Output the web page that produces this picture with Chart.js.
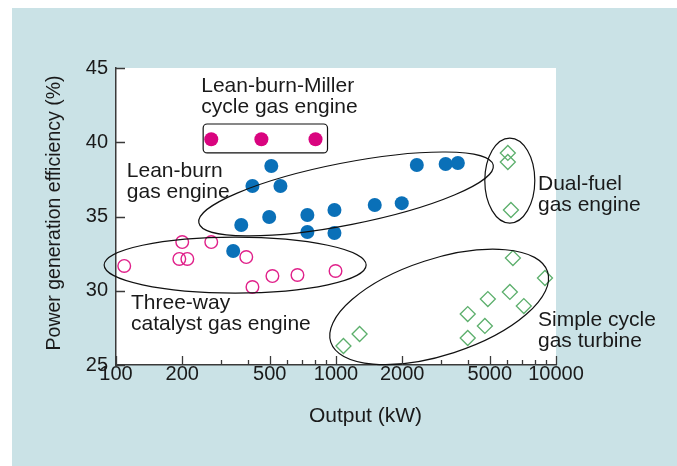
<!DOCTYPE html>
<html>
<head>
<meta charset="utf-8">
<script src="https://cdn.jsdelivr.net/npm/chart.js@4.4.1/dist/chart.umd.min.js"></script>
<style>
    html, body { margin: 0; padding: 0; background: #cae2e6; overflow: hidden; }
    canvas { display: block; }
</style>
</head>
<body>
<canvas id="effChart" width="677" height="466"></canvas>
<script>
/* DATA — output (kW) vs power generation efficiency (%) */

const millerOutput = [271, 458, 807]
const millerEff = [40.2, 40.2, 40.2]

const leanOutput = [508, 417, 559, 497, 371, 741, 984, 741, 984, 341, 2330, 3150, 3580, 1500, 1990]
const leanEff = [38.4, 37.05, 37.05, 34.97, 34.43, 35.1, 35.44, 33.96, 33.89, 32.68, 38.47, 38.54, 38.6, 35.77, 35.9]

const threeWayOutput = [109, 200, 194, 211, 271, 391, 417, 514, 668, 995]
const threeWayEff = [31.67, 33.28, 32.14, 32.14, 33.28, 32.27, 30.25, 30.99, 31.06, 31.33]

const dualFuelOutput = [6040, 6040, 6240]
const dualFuelEff = [39.28, 38.67, 35.44]

const turbineOutput = [6370, 8910, 6170, 7140, 4900, 3970, 4750, 3970, 1280, 1081]
const turbineEff = [32.2, 30.86, 29.92, 28.97, 29.44, 28.43, 27.63, 26.82, 27.09, 26.28]

const xLabelTicks = [100, 200, 500, 1000, 2000, 5000, 10000]
const xMinorTicks = [300, 400, 600, 700, 800, 900, 3000, 4000, 6000, 7000, 8000, 9000]
const yTicks = [25, 30, 35, 40, 45]

/* ANNOTATIONS — anchored in data units */

const groupLabels = [
    { x: 244, y: 43.38, lines: ['Lean-burn-Miller', 'cycle gas engine'] },
    { x: 112, y: 37.66, lines: ['Lean-burn', 'gas engine'] },
    { x: 8280, y: 36.78, lines: ['Dual-fuel', 'gas engine'] },
    { x: 8280, y: 27.63, lines: ['Simple cycle', 'gas turbine'] },
    { x: 117, y: 28.77, lines: ['Three-way', 'catalyst gas engine'] }
]

const groupEllipses = [
    { x: 1111, y: 36.52, rx: 150, ry: 31, rot: -11.1 },
    { x: 348, y: 31.73, rx: 131, ry: 28, rot: 0 },
    { x: 2944, y: 28.91, rx: 114, ry: 48, rot: -18 },
    { x: 6166, y: 37.42, rx: 25, ry: 42.5, rot: 0 }
]

const millerBox = { x0: 249, x1: 915, y0: 41.23, y1: 39.28 }

/* HELPERS */

const FONT = '"Liberation Sans", Arial, Helvetica, sans-serif'
const TEXT_COLOR = '#1a1a1a'
const AXIS_COLOR = '#3a3a3a'
const PANEL_COLOR = '#cae2e6'

function toPoints(xs, ys) {
    return xs.map((x, i) => ({ x, y: ys[i] }))
}

const annotationPlugin = {
    id: 'annotations',
    beforeDraw(chart) {
        const { ctx, width, height, chartArea } = chart
        ctx.save()
        ctx.fillStyle = PANEL_COLOR
        ctx.fillRect(0, 0, width, height)
        // white margin strips at left and top
        ctx.fillStyle = '#fff'
        ctx.fillRect(0, 0, 12, height)
        ctx.fillRect(0, 0, width, 8)
        ctx.fillRect(chartArea.left, chartArea.top, chartArea.right - chartArea.left, chartArea.bottom - chartArea.top)
        ctx.restore()
    },
    afterDatasetsDraw(chart) {
        const { ctx, scales: { x, y } } = chart
        ctx.save()
        ctx.strokeStyle = '#111'
        ctx.lineWidth = 1.2

        groupEllipses.forEach((e) => {
            ctx.beginPath()
            ctx.ellipse(x.getPixelForValue(e.x), y.getPixelForValue(e.y), e.rx, e.ry, e.rot * Math.PI / 180, 0, Math.PI * 2)
            ctx.stroke()
        })

        const bx0 = x.getPixelForValue(millerBox.x0)
        const bx1 = x.getPixelForValue(millerBox.x1)
        const by0 = y.getPixelForValue(millerBox.y0)
        const by1 = y.getPixelForValue(millerBox.y1)
        ctx.beginPath()
        ctx.roundRect(bx0, by0, bx1 - bx0, by1 - by0, 4)
        ctx.stroke()
        ctx.restore()
    },
    afterDraw(chart) {
        const { ctx, chartArea, scales: { x, y } } = chart
        ctx.save()

        // inward tick marks
        ctx.strokeStyle = AXIS_COLOR
        ctx.lineWidth = 1.3
        ctx.beginPath()
        yTicks.forEach((v) => {
            const py = Math.round(y.getPixelForValue(v)) + 0.5
            ctx.moveTo(chartArea.left, py)
            ctx.lineTo(chartArea.left + 9, py)
        })
        xLabelTicks.forEach((v) => {
            const px = Math.round(x.getPixelForValue(v)) + 0.5
            ctx.moveTo(px, chartArea.bottom)
            ctx.lineTo(px, chartArea.bottom - 9)
        })
        xMinorTicks.forEach((v) => {
            const px = Math.round(x.getPixelForValue(v)) + 0.5
            ctx.moveTo(px, chartArea.bottom)
            ctx.lineTo(px, chartArea.bottom - 5)
        })
        ctx.stroke()

        // group labels
        ctx.fillStyle = TEXT_COLOR
        ctx.font = '21px ' + FONT
        ctx.textAlign = 'left'
        ctx.textBaseline = 'alphabetic'
        groupLabels.forEach((l) => {
            const px = x.getPixelForValue(l.x)
            const py = y.getPixelForValue(l.y)
            l.lines.forEach((t, i) => ctx.fillText(t, px, py + i * 21))
        })

        // axis titles
        ctx.textAlign = 'center'
        ctx.textBaseline = 'middle'
        ctx.fillText('Output (kW)', chartArea.left + 249.5, 416)

        ctx.translate(55, 213)
        ctx.rotate(-Math.PI / 2)
        ctx.font = '19.5px ' + FONT
        ctx.fillText('Power generation efficiency (%)', 0, 0)
        ctx.restore()
    }
}

/* CHART */

new Chart(document.getElementById('effChart'), {
    type: 'scatter',
    data: {
        datasets: [
            {
                label: 'Lean-burn-Miller cycle gas engine',
                data: toPoints(millerOutput, millerEff),
                pointStyle: 'circle',
                pointRadius: 7,
                backgroundColor: '#d9047f',
                borderColor: '#d9047f',
                borderWidth: 0
            },
            {
                label: 'Lean-burn gas engine',
                data: toPoints(leanOutput, leanEff),
                pointStyle: 'circle',
                pointRadius: 7,
                backgroundColor: '#0a70b8',
                borderColor: '#0a70b8',
                borderWidth: 0
            },
            {
                label: 'Three-way catalyst gas engine',
                data: toPoints(threeWayOutput, threeWayEff),
                pointStyle: 'circle',
                pointRadius: 6.3,
                backgroundColor: 'rgba(0,0,0,0)',
                borderColor: '#e0218a',
                borderWidth: 1.4
            },
            {
                label: 'Dual-fuel gas engine',
                data: toPoints(dualFuelOutput, dualFuelEff),
                pointStyle: 'rectRot',
                pointRadius: 7.5,
                backgroundColor: 'rgba(0,0,0,0)',
                borderColor: '#5caf6c',
                borderWidth: 1.3
            },
            {
                label: 'Simple cycle gas turbine',
                data: toPoints(turbineOutput, turbineEff),
                pointStyle: 'rectRot',
                pointRadius: 7.5,
                backgroundColor: 'rgba(0,0,0,0)',
                borderColor: '#5caf6c',
                borderWidth: 1.3
            }
        ]
    },
    options: {
        responsive: false,
        animation: false,
        events: [],
        layout: { padding: { top: 68, right: 121, left: 0, bottom: 0 } },
        plugins: {
            legend: { display: false },
            tooltip: { enabled: false }
        },
        scales: {
            x: {
                type: 'logarithmic',
                min: 100,
                max: 10000,
                afterBuildTicks: (scale) => {
                    scale.ticks = xLabelTicks.map((v) => ({ value: v }))
                },
                afterFit: (scale) => { scale.height = 101 },
                grid: { display: false, drawTicks: false },
                border: { display: true, color: AXIS_COLOR, width: 1.5 },
                ticks: {
                    autoSkip: false,
                    maxRotation: 0,
                    padding: -3,
                    color: TEXT_COLOR,
                    font: { family: FONT, size: 20 },
                    callback: (v) => String(v)
                }
            },
            y: {
                type: 'linear',
                min: 25,
                max: 45,
                afterBuildTicks: (scale) => {
                    scale.ticks = yTicks.map((v) => ({ value: v }))
                },
                afterFit: (scale) => { scale.width = 116 },
                grid: { display: false, drawTicks: false },
                border: { display: true, color: AXIS_COLOR, width: 1.5 },
                ticks: {
                    padding: 8,
                    color: TEXT_COLOR,
                    font: { family: FONT, size: 20 },
                    callback: (v) => String(v)
                }
            }
        }
    },
    plugins: [annotationPlugin]
})
</script>
</body>
</html>
